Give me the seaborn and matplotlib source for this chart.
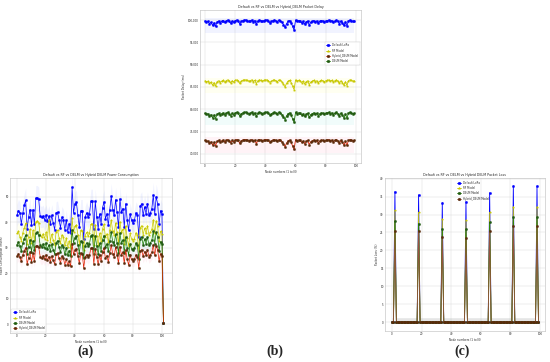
import numpy as np
import pandas as pd
import matplotlib
matplotlib.use("Agg")
import matplotlib.pyplot as plt
import seaborn as sns
from matplotlib.ticker import FuncFormatter, MultipleLocator

# ---------------- data ----------------
# (b) packet delay (thousands of ms), nodes 0..99
delay_default = [99.8,99.6,99.7,99.2,99.5,98.8,99.4,98.6,99.6,99.8,
 99.4,99.7,99.9,99.5,99.8,100.0,99.7,99.3,99.8,99.5,
 99.9,100.0,99.8,99.2,99.7,99.9,100.0,100.0,99.9,99.7,
 99.8,100.0,99.6,99.9,99.1,99.8,100.0,99.9,99.7,99.9,
 100.0,100.0,99.8,99.4,99.7,99.9,100.0,99.8,99.6,100.0,
 99.9,99.5,99.0,98.4,99.2,99.7,99.9,99.4,98.6,97.8,
 100.0,99.7,99.9,99.8,99.4,99.7,99.1,99.6,99.8,98.9,
 99.5,99.7,99.9,99.6,99.8,99.3,99.7,99.9,99.8,99.6,
 99.8,99.9,100.0,99.7,99.9,99.5,99.8,100.0,99.7,99.2,
 99.8,99.4,98.8,99.6,98.7,99.8,100.0,99.9,99.7,99.8]
delay_rf = [86.4,86.2,86.3,85.8,86.1,85.4,86.0,85.2,86.2,86.4,
 86.0,86.3,86.5,86.1,86.4,86.6,86.3,85.9,86.4,86.1,
 86.5,86.6,86.4,85.8,86.3,86.5,86.6,86.6,86.5,86.3,
 86.4,86.6,86.2,86.5,85.7,86.4,86.6,86.5,86.3,86.5,
 86.6,86.6,86.4,86.0,86.3,86.5,86.6,86.4,86.2,86.6,
 86.5,86.1,85.6,85.0,85.8,86.3,86.5,86.0,85.2,84.4,
 86.6,86.3,86.5,86.4,86.0,86.3,85.7,86.2,86.4,85.5,
 86.1,86.3,86.5,86.2,86.4,85.9,86.3,86.5,86.4,86.2,
 86.4,86.5,86.6,86.3,86.5,86.1,86.4,86.6,86.3,85.8,
 86.4,86.0,85.4,86.2,85.3,86.4,86.6,86.5,86.3,86.4]
delay_delm = [79.1,78.9,79.0,78.5,78.8,78.1,78.7,77.9,78.9,79.1,
 78.7,79.0,79.2,78.8,79.1,79.3,79.0,78.6,79.1,78.8,
 79.2,79.3,79.1,78.5,79.0,79.2,79.3,79.3,79.2,79.0,
 79.1,79.3,78.9,79.2,78.4,79.1,79.3,79.2,79.0,79.2,
 79.3,79.3,79.1,78.7,79.0,79.2,79.3,79.1,78.9,79.3,
 79.2,78.8,78.3,77.7,78.5,79.0,79.2,78.7,77.9,77.1,
 79.3,79.0,79.2,79.1,78.7,79.0,78.4,78.9,79.1,78.2,
 78.8,79.0,79.2,78.9,79.1,78.6,79.0,79.2,79.1,78.9,
 79.1,79.2,79.3,79.0,79.2,78.8,79.1,79.3,79.0,78.5,
 79.1,78.7,78.1,78.9,78.0,79.1,79.3,79.2,79.0,79.1]
delay_hybrid = [73.0,72.8,72.9,72.4,72.7,72.0,72.6,71.8,72.8,73.0,
 72.6,72.9,73.1,72.7,73.0,73.2,72.9,72.5,73.0,72.7,
 73.1,73.2,73.0,72.4,72.9,73.1,73.2,73.2,73.1,72.9,
 73.0,73.2,72.8,73.1,72.3,73.0,73.2,73.1,72.9,73.1,
 73.2,73.2,73.0,72.6,72.9,73.1,73.2,73.0,72.8,73.2,
 73.1,72.7,72.2,71.6,72.4,72.9,73.1,72.6,71.8,71.0,
 73.2,72.9,73.1,73.0,72.6,72.9,72.3,72.8,73.0,72.1,
 72.7,72.9,73.1,72.8,73.0,72.5,72.9,73.1,73.0,72.8,
 73.0,73.1,73.2,72.9,73.1,72.7,73.0,73.2,72.9,72.4,
 73.0,72.6,72.0,72.8,71.9,73.0,73.2,73.1,72.9,73.0]

# (a) power consumption, nodes 0..101
power_default = [42.7, 44.6, 43.5, 39.5, 43.5, 46.7, 48.6, 37.5, 42.0, 45.0,
 38.9, 45.0, 39.2, 49.5, 49.5, 49.0, 42.3, 42.0, 42.5, 41.0,
 42.7, 40.5, 42.3, 39.5, 42.7, 39.7, 37.1, 43.7, 44.0, 41.0,
 37.9, 42.0, 41.0, 37.1, 40.8, 36.2, 39.5, 35.6, 53.8, 43.7,
 47.3, 47.8, 42.7, 38.1, 44.5, 44.5, 33.6, 42.0, 43.7, 42.0,
 43.3, 48.2, 48.2, 37.5, 48.2, 42.0, 37.5, 43.3, 39.5, 45.7,
 48.0, 41.4, 43.3, 38.8, 45.0, 50.2, 44.8, 42.7, 48.9, 44.0,
 38.1, 49.2, 44.0, 45.4, 38.1, 47.3, 41.0, 36.8, 43.3, 40.8,
 39.7, 40.8, 43.7, 42.7, 34.2, 46.3, 47.3, 42.7, 46.0, 43.3,
 47.3, 42.7, 43.7, 45.4, 50.6, 43.3, 50.0, 47.3, 39.5, 44.6,
 43.1, 0.5]
power_rf = [35.6, 36.5, 34.2, 32.8, 35.9, 37.8, 39.6, 31.5, 34.4, 37.2,
 32.0, 36.8, 33.0, 40.2, 40.6, 39.8, 35.0, 34.1, 35.5, 33.6,
 36.0, 33.2, 40.8, 32.4, 35.3, 33.0, 31.2, 36.2, 37.0, 34.0,
 31.8, 35.1, 34.2, 30.9, 33.8, 30.4, 32.6, 30.0, 41.5, 36.2,
 38.4, 39.0, 35.1, 31.5, 36.8, 36.5, 29.2, 34.8, 36.0, 34.5,
 35.6, 39.2, 39.5, 31.2, 39.0, 34.6, 31.0, 35.8, 32.6, 37.4,
 39.2, 34.1, 35.5, 32.2, 37.0, 40.8, 36.6, 35.0, 39.8, 36.0,
 31.5, 40.2, 36.1, 37.2, 31.6, 38.6, 33.8, 30.6, 35.6, 33.5,
 32.8, 33.6, 35.9, 35.0, 28.8, 37.8, 38.7, 35.1, 37.7, 35.6,
 38.6, 35.0, 36.0, 37.2, 41.0, 35.6, 40.6, 38.6, 32.6, 36.5,
 35.4, 0.5]
power_delm = [31.2, 32.3, 30.6, 28.8, 31.8, 33.6, 35.0, 27.6, 30.4, 33.0,
 28.4, 32.6, 29.0, 35.6, 36.0, 35.2, 31.0, 30.2, 31.4, 29.8,
 31.9, 29.4, 31.0, 28.7, 31.3, 29.2, 27.6, 32.0, 32.8, 30.2,
 28.2, 31.1, 30.3, 27.4, 30.0, 27.0, 28.9, 26.6, 37.0, 32.0,
 34.0, 34.6, 31.1, 28.0, 32.6, 32.4, 25.9, 30.8, 31.9, 30.6,
 31.5, 34.8, 35.0, 27.7, 34.6, 30.7, 27.5, 31.7, 28.9, 33.2,
 34.8, 30.2, 31.5, 28.6, 32.8, 36.2, 32.4, 31.0, 35.3, 31.9,
 28.0, 35.6, 32.0, 33.0, 28.0, 34.2, 30.0, 27.2, 31.6, 29.7,
 29.1, 29.8, 31.8, 31.0, 25.6, 33.5, 34.3, 31.1, 33.4, 31.6,
 34.2, 31.0, 31.9, 33.0, 36.4, 31.6, 36.0, 34.2, 28.9, 32.4,
 31.4, 0.5]
power_hybrid = [26.6, 27.6, 26.2, 24.6, 27.2, 28.8, 30.0, 23.6, 26.0, 28.2,
 24.3, 27.9, 24.8, 30.5, 30.8, 30.2, 26.5, 25.8, 26.9, 25.5,
 27.3, 25.1, 26.5, 24.5, 26.8, 25.0, 23.6, 27.4, 28.0, 25.8,
 24.1, 26.6, 25.9, 23.4, 25.6, 23.1, 24.7, 22.7, 31.6, 27.4,
 29.1, 29.6, 26.6, 24.0, 27.9, 27.7, 22.1, 26.3, 27.3, 26.2,
 27.0, 29.8, 29.9, 23.7, 29.6, 26.2, 23.5, 27.1, 24.7, 28.4,
 29.8, 25.8, 26.9, 24.4, 28.0, 31.0, 27.7, 26.5, 30.2, 27.3,
 23.9, 30.4, 27.3, 28.2, 23.9, 29.2, 25.6, 23.2, 27.0, 25.4,
 24.9, 25.5, 27.2, 26.5, 21.9, 28.6, 29.3, 26.6, 28.5, 27.0,
 29.2, 26.5, 27.3, 28.2, 31.1, 27.0, 30.8, 29.2, 24.7, 27.7,
 26.8, 0.5]

# (c) packet loss: nodes 0..99, zero except at spike nodes
loss_n_nodes = 100
loss_spike_nodes = [2, 18, 34, 50, 66, 82, 98]
loss_default_peaks = [36.4, 35.5, 33.3, 33.6, 36.1, 38.0, 38.0]
loss_rf_peaks = [31.2, 30.6, 28.7, 28.4, 30.6, 32.2, 32.2]
loss_delm_peaks = [28.1, 27.5, 25.9, 25.9, 27.8, 29.2, 29.2]
loss_hybrid_peaks = [25.4, 25.3, 23.7, 23.4, 25.3, 26.7, 26.7]

labels = {"def": "Default LoRa", "rf": "RF Model", "delm": "DELM Model",
          "hyb": "Hybrid_DELM Model"}
titles = ["Default vs RF vs DELM vs Hybrid DELM Power Consumption",
          "Default vs RF vs DELM vs Hybrid_DELM Packet Delay",
          "Default vs RF vs DELM vs Hybrid DELM Packet Loss"]
xlabel = "Node numbers (1 to N)"

# ---------------- style ----------------
sns.set_style("whitegrid", {"grid.color": "#dddddd", "axes.edgecolor": "#bbbbbb"})
plt.rcParams["font.family"] = ["DejaVu Sans"]

C_DEF = "#0000ff"
C_RF = "#c8c800"
C_DELM = "#1a7a00"
C_HYB = "#e02000"
M_HYB = "#5a2a0a"

STY = {
    "def": dict(color=C_DEF, marker="o", mfc=C_DEF, mec=C_DEF),
    "rf": dict(color=C_RF, marker="*", mfc=C_RF, mec=C_RF),
    "delm": dict(color=C_DELM, marker="o", mfc="#205a10", mec="#205a10"),
    "hyb": dict(color=C_HYB, marker="o", mfc=M_HYB, mec=M_HYB),
}
BAND = {"def": "#4060ff", "rf": "#ffff40", "delm": "#40e0d0", "hyb": "#ff6090"}

fig = plt.figure(figsize=(5.5, 3.62), dpi=100)
axa = fig.add_axes([0.0182, 0.0801, 0.2945, 0.4282])
axb = fig.add_axes([0.3636, 0.5497, 0.2927, 0.4227])
axc = fig.add_axes([0.7000, 0.0856, 0.2909, 0.4227])


def draw(ax, x, y, key, lw=0.6, ms=1.6, color=None):
    s = STY[key]
    sns.lineplot(x=x, y=y, ax=ax, color=color or s["color"], marker=s["marker"],
                 markerfacecolor=s["mfc"], markeredgecolor=s["mec"],
                 markersize=ms, linewidth=lw, label=labels[key],
                 markeredgewidth=0.3)


def finish(ax, title, ylabel):
    ax.set_title(title, fontsize=2.3, pad=1.5)
    ax.set_xlabel(xlabel, fontsize=2.0, labelpad=1)
    ax.set_ylabel(ylabel, fontsize=2.0, labelpad=1)
    ax.tick_params(labelsize=2.0, pad=1, length=0)
    ax.xaxis.set_major_locator(MultipleLocator(20))
    for sp in ax.spines.values():
        sp.set_linewidth(0.4)
    ax.grid(linewidth=0.35)


# ---- (b) packet delay ----
xb = np.arange(len(delay_default))
for key, vals in [("def", delay_default), ("rf", delay_rf),
                  ("hyb", delay_hybrid), ("delm", delay_delm)]:
    v = np.array(vals) * 1000
    axb.fill_between(xb, v.min() - 700, v.max() + 500, color=BAND[key],
                     alpha=0.07, linewidth=0)
    draw(axb, xb, v, key)
axb.set_ylim(67950, 102270)
axb.yaxis.set_major_locator(MultipleLocator(5000))
axb.yaxis.set_major_formatter(FuncFormatter(lambda v, p: f"{v:,.0f}"))
finish(axb, titles[1], "Packet Delay (ms)")
axb.set_xlim(-3.3, 103.3)
lg = axb.legend(loc="upper right", bbox_to_anchor=(1.0, 0.80), fontsize=1.9,
                frameon=True, borderpad=0.5, handlelength=1.5, markerscale=1.2)
lg.get_frame().set_linewidth(0.3)

# ---- (a) power consumption ----
xa = np.arange(len(power_default))
for key, vals in [("def", power_default), ("rf", power_rf),
                  ("delm", power_delm), ("hyb", power_hybrid)]:
    v = np.array(vals)
    axa.fill_between(xa, v * 0.9, v * 1.1, color=BAND[key], alpha=0.08,
                     linewidth=0)
    draw(axa, xa, v, key, lw=0.5)
axa.set_ylim(-3.5, 57.4)
axa.yaxis.set_major_locator(MultipleLocator(10))
finish(axa, titles[0], "Power Consumption (mWh)")
axa.set_xlim(-4.8, 106.9)
lg = axa.legend(loc="lower left", fontsize=1.9, frameon=True, borderpad=0.5,
                handlelength=1.5, markerscale=1.2)
lg.get_frame().set_linewidth(0.3)

# ---- (c) packet loss ----
xc = np.arange(loss_n_nodes)
for key, peaks in [("def", loss_default_peaks), ("rf", loss_rf_peaks),
                   ("delm", loss_delm_peaks), ("hyb", loss_hybrid_peaks)]:
    v = np.zeros(loss_n_nodes)
    v[loss_spike_nodes] = peaks
    axc.fill_between(xc, np.maximum(v - 1.2, 0), v + 1.2, color=BAND[key],
                     alpha=0.08, linewidth=0)
    draw(axc, xc, v, key, color="#9a5040" if key == "hyb" else None)
axc.set_ylim(-2.5, 40.2)
axc.yaxis.set_major_locator(MultipleLocator(5))
finish(axc, titles[2], "Packet Loss (%)")
axc.set_xlim(-4.7, 103.4)
lg = axc.legend(loc="upper center", bbox_to_anchor=(0.55, 1.0), fontsize=1.9,
                frameon=False, borderpad=0.5, handlelength=1.5, markerscale=1.2)

# ---- panel letters ----
for txt, px in [("(a)", 85), ("(b)", 275), ("(c)", 462)]:
    fig.text(px / 550, 1 - 351 / 362, txt, ha="center", va="center",
             fontsize=10, fontweight="bold", family="Liberation Serif")

fig.savefig("out.png", dpi=100, facecolor="white")
